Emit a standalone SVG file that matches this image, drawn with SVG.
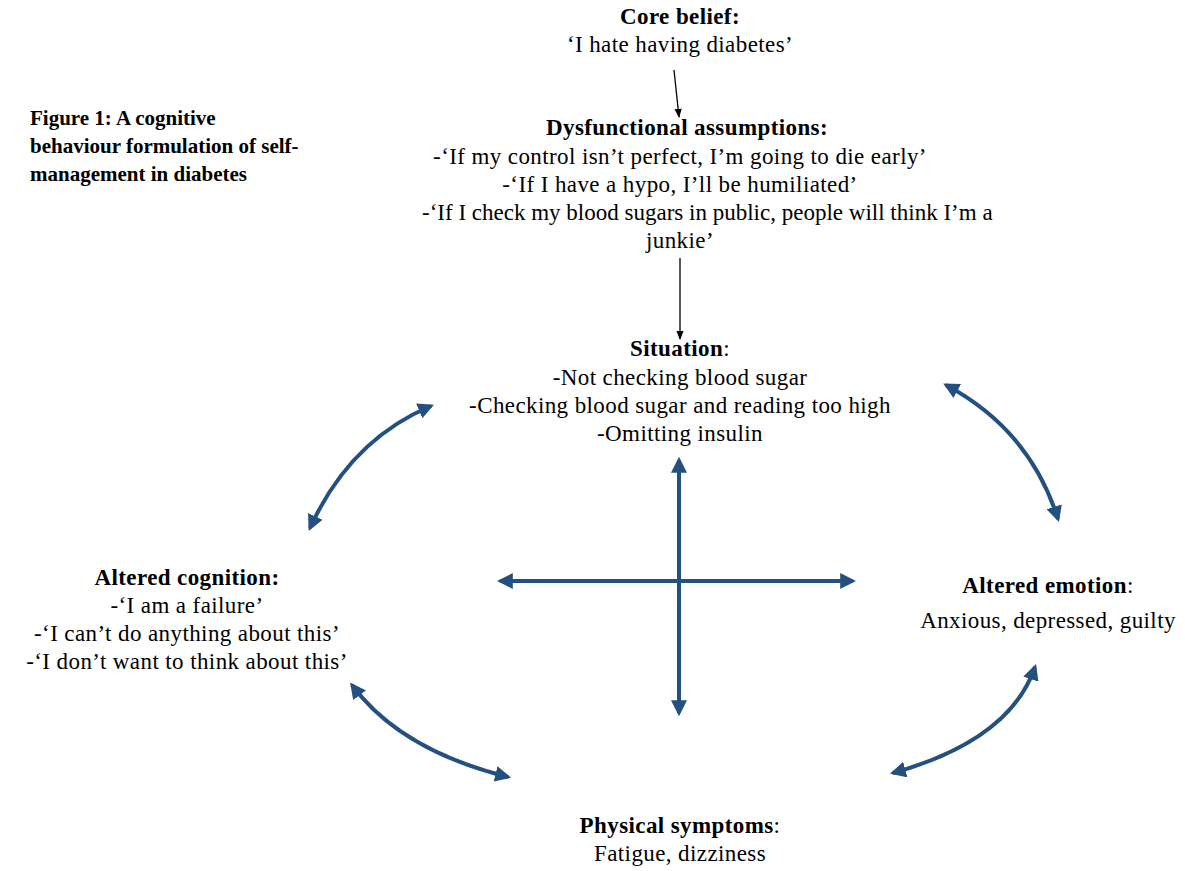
<svg xmlns="http://www.w3.org/2000/svg" width="1185" height="871" viewBox="0 0 1185 871">
<style>
text{font-family:"Liberation Serif","Times New Roman",serif;font-size:23px;letter-spacing:0.4px;fill:#000}
.b{font-weight:bold}
.c{text-anchor:middle}
.t{font-size:21px;letter-spacing:0}
.blue{fill:none;stroke:#24507F;stroke-width:4}
.blk{fill:none;stroke:#000;stroke-width:1.3}
</style>
<defs>
<marker id="ab" viewBox="0 0 10 10" refX="8" refY="5" markerWidth="4" markerHeight="4" orient="auto-start-reverse" markerUnits="strokeWidth"><path d="M0,0 L10,5 L0,10 Z" fill="#24507F"/></marker>
<marker id="ak" viewBox="0 0 10 10" refX="9" refY="5" markerWidth="7" markerHeight="7" orient="auto" markerUnits="strokeWidth"><path d="M0,1 L10,5 L0,9 Z" fill="#000"/></marker>
</defs>
<rect width="1185" height="871" fill="#fff"/>
<g id="title">
<text class="b t" x="30" y="125">Figure 1: A cognitive</text>
<text class="b t" x="30" y="153">behaviour formulation of self-</text>
<text class="b t" x="30" y="181">management in diabetes</text>
</g>
<g id="core">
<text class="b c" x="680" y="24">Core belief:</text>
<text class="c" x="680" y="52">‘I hate having diabetes’</text>
</g>
<g id="assumptions">
<text class="b c" x="687" y="135">Dysfunctional assumptions:</text>
<text class="c" x="680" y="164">-‘If my control isn’t perfect, I’m going to die early’</text>
<text class="c" x="680" y="192">-‘If I have a hypo, I’ll be humiliated’</text>
<text x="422" y="220" textLength="571" lengthAdjust="spacing">-‘If I check my blood sugars in public, people will think I’m a</text>
<text class="c" x="680" y="248">junkie’</text>
</g>
<g id="situation">
<text class="c" x="680" y="356"><tspan class="b">Situation</tspan>:</text>
<text class="c" x="680" y="385">-Not checking blood sugar</text>
<text class="c" x="680" y="413">-Checking blood sugar and reading too high</text>
<text class="c" x="680" y="441">-Omitting insulin</text>
</g>
<g id="cognition">
<text class="b c" x="187" y="585">Altered cognition:</text>
<text class="c" x="187" y="613">-‘I am a failure’</text>
<text class="c" x="187" y="641">-‘I can’t do anything about this’</text>
<text class="c" x="187" y="669">-‘I don’t want to think about this’</text>
</g>
<g id="emotion">
<text class="c" x="1048" y="593"><tspan class="b">Altered emotion</tspan>:</text>
<text class="c" x="1048" y="628">Anxious, depressed, guilty</text>
</g>
<g id="physical">
<text class="c" x="680" y="833"><tspan class="b">Physical symptoms</tspan>:</text>
<text class="c" x="680" y="861">Fatigue, dizziness</text>
</g>
<g id="connectors">
<line class="blk" x1="674" y1="70" x2="679" y2="117" marker-end="url(#ak)"/>
<line class="blk" x1="680" y1="258" x2="680" y2="339" marker-end="url(#ak)"/>
<line class="blue" x1="679" y1="460" x2="679" y2="713" marker-start="url(#ab)" marker-end="url(#ab)"/>
<line class="blue" x1="500" y1="581" x2="853" y2="581" marker-start="url(#ab)" marker-end="url(#ab)"/>
<path class="blue" d="M310,528 Q350,440 431,406" marker-start="url(#ab)" marker-end="url(#ab)"/>
<path class="blue" d="M946,385 Q1030,430 1058,519" marker-start="url(#ab)" marker-end="url(#ab)"/>
<path class="blue" d="M352,685 Q400,750 508,777" marker-start="url(#ab)" marker-end="url(#ab)"/>
<path class="blue" d="M893,773 Q1010,740 1035,667" marker-start="url(#ab)" marker-end="url(#ab)"/>
</g>
</svg>
